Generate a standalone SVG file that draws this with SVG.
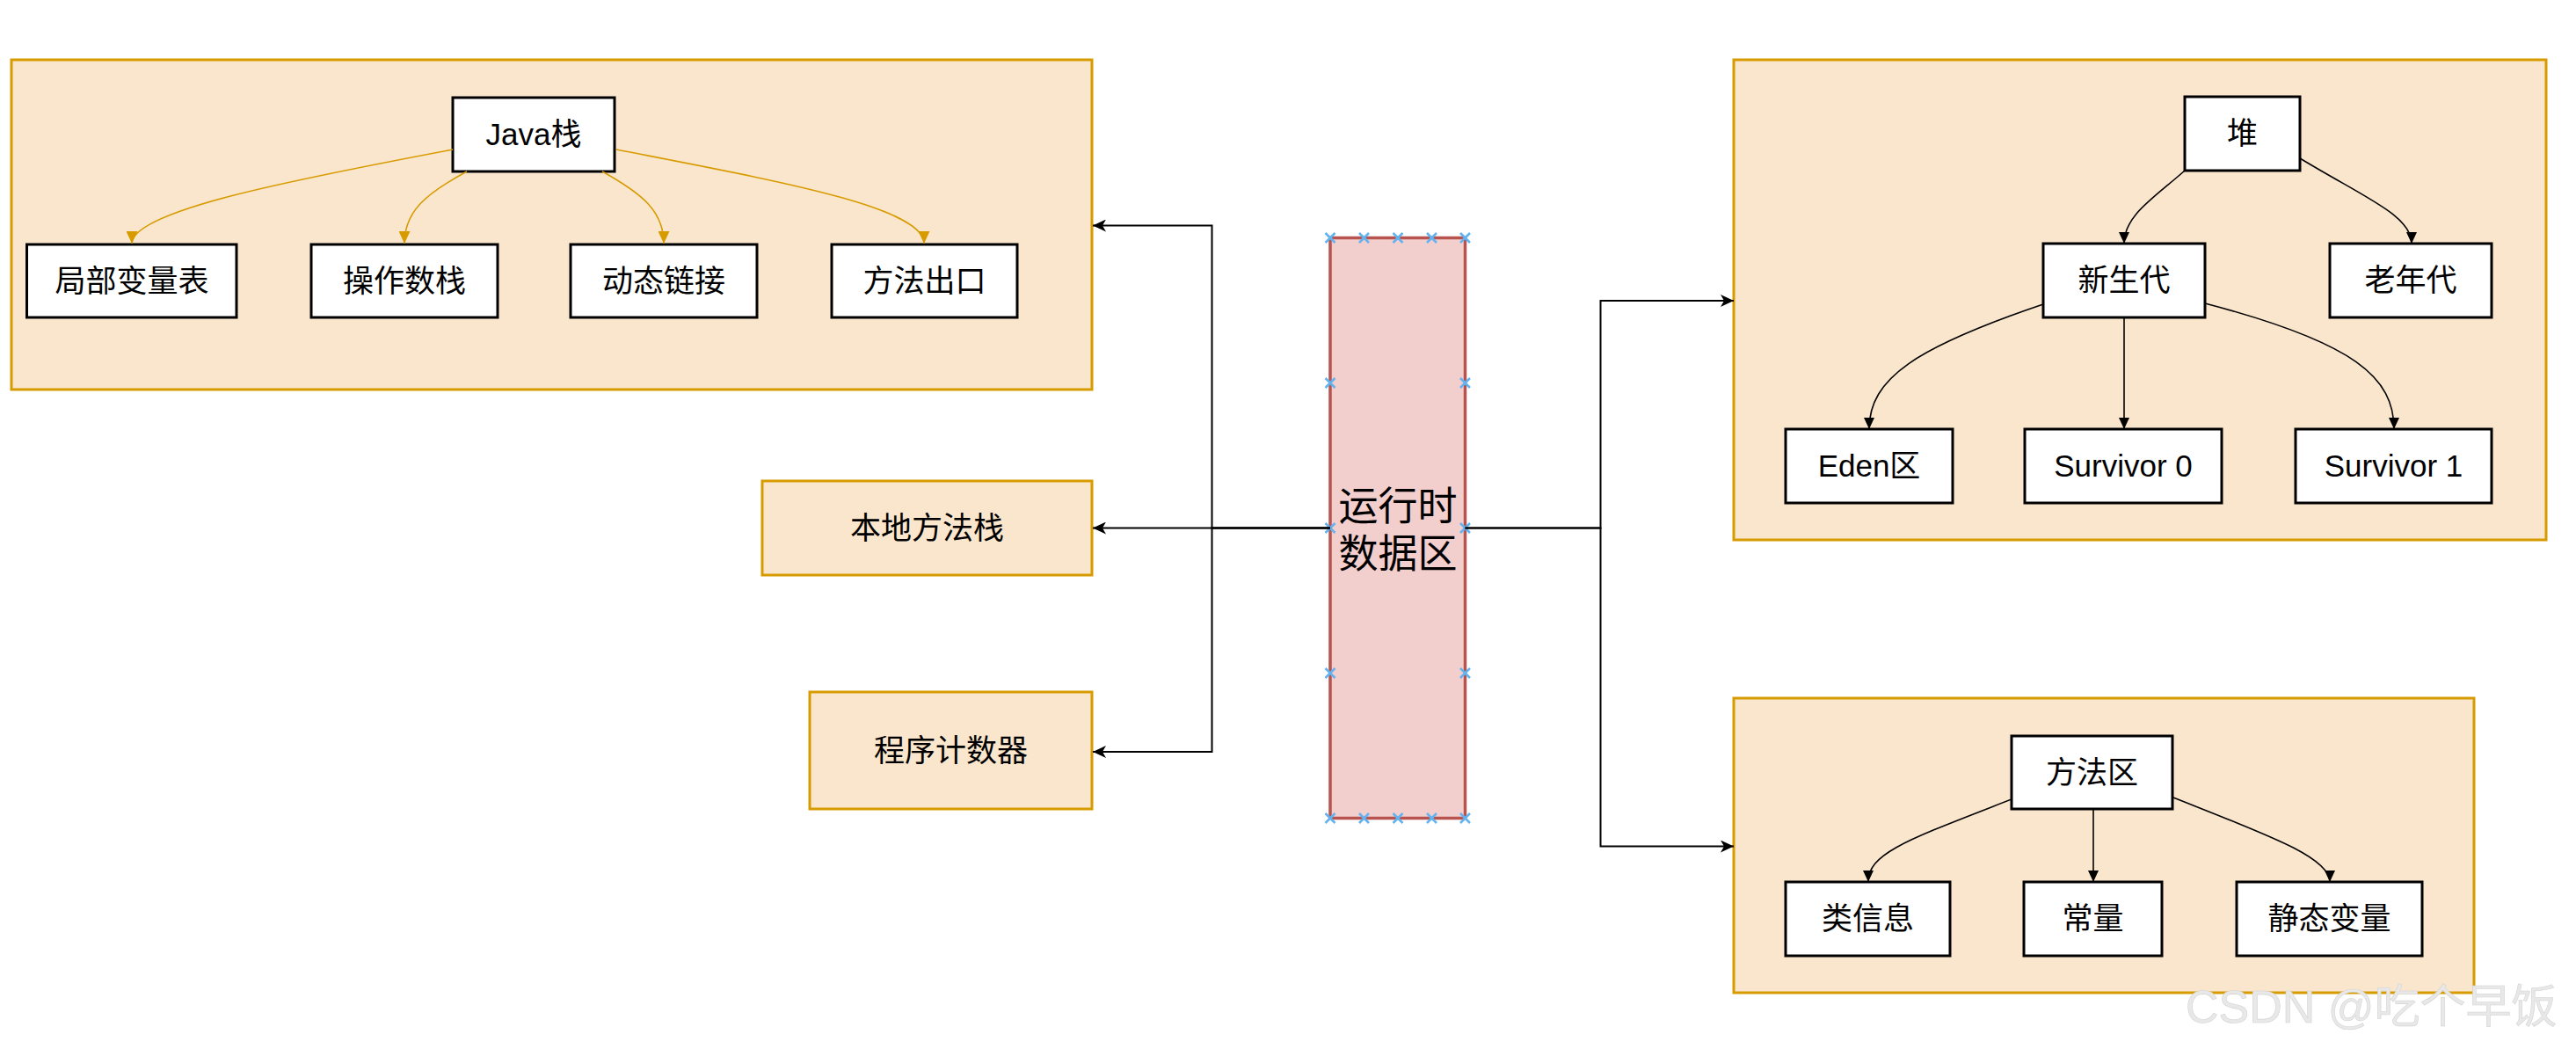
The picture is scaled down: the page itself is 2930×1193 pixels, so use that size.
<svg xmlns="http://www.w3.org/2000/svg" width="2930" height="1193" viewBox="0 0 2930 1193">
<style>
.container{fill:#fae6cc;stroke:#d79b00;stroke-width:3}
.box{fill:#ffffff;stroke:#000000;stroke-width:3}
.runtime{fill:#f2cecd;stroke:#b85450;stroke-width:3.5}
.t{font-family:"Liberation Sans","Noto Sans CJK SC",sans-serif;font-size:35px;fill:#000000;text-anchor:middle}
.big{font-size:45px}
.main{fill:none;stroke:#000000;stroke-width:2}
.gold{fill:none;stroke:#d79b00;stroke-width:1.6}
.tree{fill:none;stroke:#000000;stroke-width:1.6}
.pt{fill:none;stroke:#62b3f0;stroke-width:2.6}
.wm{font-family:"Liberation Sans","Noto Sans CJK SC",sans-serif;font-size:52px;fill:#e8e8e8;stroke:#d4d4d4;stroke-width:0.6}
</style>
<defs>
<marker id="arrClassic" viewBox="0 0 15 14" refX="15" refY="7" markerWidth="15" markerHeight="14" markerUnits="userSpaceOnUse" orient="auto">
<path d="M0,0 L15,7 L0,14 L4,7 z" fill="#000000"/>
</marker>
<marker id="arrBlock" viewBox="0 0 13 12" refX="13" refY="6" markerWidth="13" markerHeight="12" markerUnits="userSpaceOnUse" orient="auto">
<path d="M0,0 L13,6 L0,12 z" fill="#000000"/>
</marker>
<marker id="arrGold" viewBox="0 0 14 13" refX="14" refY="6.5" markerWidth="14" markerHeight="13" markerUnits="userSpaceOnUse" orient="auto">
<path d="M0,0 L14,6.5 L0,13 z" fill="#d79b00"/>
</marker>
<path id="xmark" d="M-5.5,-5.5 L5.5,5.5 M-5.5,5.5 L5.5,-5.5"/>
</defs>
<rect width="2930" height="1193" fill="#ffffff"/>

<g id="java-stack-area">
<rect class="container" x="13" y="68" width="1229" height="375"/>
</g>
<g id="java-stack">
<rect class="box" x="515" y="111" width="184" height="84"/>
<text class="t" x="607" y="165">Java栈</text>
</g>
<g id="local-vars">
<rect class="box" x="30.5" y="278" width="238.5" height="83"/>
<text class="t" x="150" y="332">局部变量表</text>
</g>
<g id="operand-stack">
<rect class="box" x="354" y="278" width="212" height="83"/>
<text class="t" x="460" y="332">操作数栈</text>
</g>
<g id="dynamic-link">
<rect class="box" x="649" y="278" width="212" height="83"/>
<text class="t" x="755" y="332">动态链接</text>
</g>
<g id="method-exit">
<rect class="box" x="946" y="278" width="211" height="83"/>
<text class="t" x="1051.5" y="332">方法出口</text>
</g>

<g id="native-stack">
<rect class="container" x="867" y="547" width="375" height="107"/>
<text class="t" x="1054.5" y="613">本地方法栈</text>
</g>
<g id="pc-register">
<rect class="container" x="921" y="787" width="321" height="133"/>
<text class="t" x="1081.5" y="866">程序计数器</text>
</g>

<g id="runtime-data-area">
<rect class="runtime" x="1513" y="270.5" width="153.5" height="660"/>
<text class="t big" x="1590" y="592">运行时</text>
<text class="t big" x="1590" y="646">数据区</text>
<g class="pt">
<use href="#xmark" x="1513" y="270.5"/><use href="#xmark" x="1551.5" y="270.5"/><use href="#xmark" x="1590" y="270.5"/><use href="#xmark" x="1628.5" y="270.5"/><use href="#xmark" x="1666.5" y="270.5"/>
<use href="#xmark" x="1513" y="930.5"/><use href="#xmark" x="1551.5" y="930.5"/><use href="#xmark" x="1590" y="930.5"/><use href="#xmark" x="1628.5" y="930.5"/><use href="#xmark" x="1666.5" y="930.5"/>
<use href="#xmark" x="1513" y="435.5"/><use href="#xmark" x="1513" y="600.5"/><use href="#xmark" x="1513" y="765.5"/>
<use href="#xmark" x="1666.5" y="435.5"/><use href="#xmark" x="1666.5" y="600.5"/><use href="#xmark" x="1666.5" y="765.5"/>
</g>
</g>

<g id="heap-area">
<rect class="container" x="1972" y="68" width="924" height="546"/>
</g>
<g id="heap">
<rect class="box" x="2485" y="110" width="131" height="84"/>
<text class="t" x="2550.5" y="164">堆</text>
</g>
<g id="young-gen">
<rect class="box" x="2324" y="277" width="184" height="84"/>
<text class="t" x="2416" y="331">新生代</text>
</g>
<g id="old-gen">
<rect class="box" x="2650" y="277" width="184" height="84"/>
<text class="t" x="2742" y="331">老年代</text>
</g>
<g id="eden">
<rect class="box" x="2031" y="488" width="190" height="84"/>
<text class="t" x="2126" y="542">Eden区</text>
</g>
<g id="survivor-0">
<rect class="box" x="2303" y="488" width="224" height="84"/>
<text class="t" x="2415" y="542">Survivor 0</text>
</g>
<g id="survivor-1">
<rect class="box" x="2611" y="488" width="223" height="84"/>
<text class="t" x="2722.5" y="542">Survivor 1</text>
</g>

<g id="method-area-container">
<rect class="container" x="1972" y="794" width="842" height="335"/>
</g>
<g id="method-area">
<rect class="box" x="2288" y="837" width="183" height="83"/>
<text class="t" x="2379.5" y="891">方法区</text>
</g>
<g id="class-info">
<rect class="box" x="2031" y="1003" width="187" height="84"/>
<text class="t" x="2124.5" y="1057">类信息</text>
</g>
<g id="constants">
<rect class="box" x="2302" y="1003" width="157" height="84"/>
<text class="t" x="2380.5" y="1057">常量</text>
</g>
<g id="static-vars">
<rect class="box" x="2544" y="1003" width="211" height="84"/>
<text class="t" x="2649.5" y="1057">静态变量</text>
</g>

<g id="connectors">
<path class="main" d="M1513,600.5 L1378.5,600.5 L1378.5,256.5 L1243,256.5" marker-end="url(#arrClassic)"/>
<path class="main" d="M1513,600.5 L1243,600.5" marker-end="url(#arrClassic)"/>
<path class="main" d="M1513,600.5 L1378.5,600.5 L1378.5,855 L1243,855" marker-end="url(#arrClassic)"/>
<path class="main" d="M1666.5,600.5 L1820.5,600.5 L1820.5,342 L1972,342" marker-end="url(#arrClassic)"/>
<path class="main" d="M1666.5,600.5 L1820.5,600.5 L1820.5,962.5 L1972,962.5" marker-end="url(#arrClassic)"/>

<path class="gold" d="M515,170 C330,205 150,240 150,277" marker-end="url(#arrGold)"/>
<path class="gold" d="M531,195 C485,220 460,240 460,277" marker-end="url(#arrGold)"/>
<path class="gold" d="M685,195 C730,220 755,240 755,277" marker-end="url(#arrGold)"/>
<path class="gold" d="M701,170 C880,205 1051,235 1051,277" marker-end="url(#arrGold)"/>

<path class="tree" d="M2485,194 C2450,225 2416,245 2416,277" marker-end="url(#arrBlock)"/>
<path class="tree" d="M2616,180 C2690,225 2743,245 2743,277" marker-end="url(#arrBlock)"/>
<path class="tree" d="M2324,346 C2180,395 2126,430 2126,488" marker-end="url(#arrBlock)"/>
<path class="tree" d="M2416,361 L2416,488" marker-end="url(#arrBlock)"/>
<path class="tree" d="M2508,345 C2680,390 2723,430 2723,488" marker-end="url(#arrBlock)"/>

<path class="tree" d="M2288,909 C2170,955 2125,970 2125,1003" marker-end="url(#arrBlock)"/>
<path class="tree" d="M2381,920 L2381,1003" marker-end="url(#arrBlock)"/>
<path class="tree" d="M2472,907 C2580,950 2650,975 2650,1003" marker-end="url(#arrBlock)"/>
</g>

<text class="wm" x="2486" y="1163">CSDN @吃个早饭</text>
</svg>
